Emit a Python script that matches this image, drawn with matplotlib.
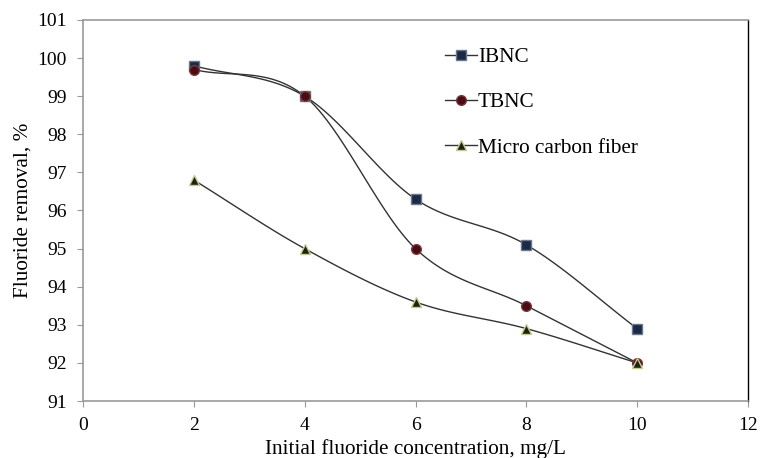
import numpy as np
import matplotlib
matplotlib.use("Agg")
import matplotlib.pyplot as plt
from matplotlib.lines import Line2D

plt.rcParams['font.family'] = ['Liberation Serif', 'DejaVu Serif']

concentration = [2, 4, 6, 8, 10]
ibnc = [99.8, 99.0, 96.3, 95.1, 92.9]
tbnc = [99.7, 99.0, 95.0, 93.5, 92.0]
micro_cf = [96.8, 95.0, 93.6, 92.9, 92.0]
labels = ["IBNC", "TBNC", "Micro carbon fiber"]
x_ticks = [0, 2, 4, 6, 8, 10, 12]
y_ticks = [91, 92, 93, 94, 95, 96, 97, 98, 99, 100, 101]


def smooth(x, y, n=30):
    """Cardinal (Catmull-Rom style) smoothing like a spreadsheet's smoothed line."""
    x = np.asarray(x, float)
    y = np.asarray(y, float)
    px = np.concatenate([[2 * x[0] - x[1]], x, [2 * x[-1] - x[-2]]])
    py = np.concatenate([[2 * y[0] - y[1]], y, [2 * y[-1] - y[-2]]])
    xs, ys = [], []
    for i in range(1, len(px) - 2):
        t = np.linspace(0, 1, n, endpoint=False)
        p0, p1, p2, p3 = (np.array([px[j], py[j]]) for j in range(i - 1, i + 3))
        m1 = 0.5 * (p2 - p0)
        m2 = 0.5 * (p3 - p1)
        h00 = 2 * t**3 - 3 * t**2 + 1
        h10 = t**3 - 2 * t**2 + t
        h01 = -2 * t**3 + 3 * t**2
        h11 = t**3 - t**2
        pts = (np.outer(h00, p1) + np.outer(h10, m1) + np.outer(h01, p2) + np.outer(h11, m2))
        xs.extend(pts[:, 0])
        ys.extend(pts[:, 1])
    xs.append(x[-1])
    ys.append(y[-1])
    return np.array(xs), np.array(ys)


fig = plt.figure(figsize=(7.63, 4.58), dpi=100)
ax = fig.add_axes([83 / 763, 1 - 401 / 458, (748 - 83) / 763, (401 - 20) / 458])

styles = [
    dict(marker='s', mfc='#1c2a48', mec='#6a7a8a', ms=7),
    dict(marker='o', mfc='#4a0c14', mec='#7a3a3a', ms=7),
    dict(marker='^', mfc='#1a2410', mec='#c8c890', ms=7),
]
series = [ibnc, tbnc, micro_cf]
line_color = '#333333'

for yv, st in zip(series, styles):
    sx, sy = smooth(concentration, yv)
    ax.plot(sx, sy, color=line_color, lw=1.0, zorder=2)
    ax.plot(concentration, yv, ls='none', zorder=3, **st)

handles = [Line2D([0], [0], color=line_color, lw=1.0, **st) for st in styles]
ax.legend(handles, labels, loc='upper left', bbox_to_anchor=(0.522, 0.968), frameon=False,
          fontsize=15.3, handlelength=1.5, handletextpad=0.05, labelspacing=1.2,
          borderpad=0.2)

ax.set_xlim(0, 12)
ax.set_ylim(91, 101)
ax.set_xticks(x_ticks)
ax.set_yticks(y_ticks)
ax.tick_params(labelsize=14, direction='out', length=4.5, color='#999999', pad=7)

for side in ['left', 'bottom', 'top']:
    ax.spines[side].set_color('#999999')
    ax.spines[side].set_linewidth(1.2)
ax.spines['right'].set_color('#000000')
ax.spines['right'].set_linewidth(1.0)

ax.set_xlabel('Initial fluoride concentration, mg/L', fontsize=15.3, labelpad=4)
ax.set_ylabel('Fluoride removal, %', fontsize=15.3, labelpad=3.5)

fig.savefig('out.png', dpi=100)
